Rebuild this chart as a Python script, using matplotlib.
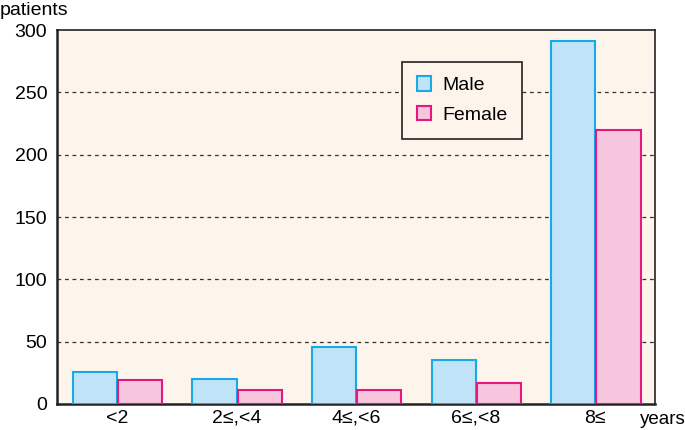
import numpy as np
import matplotlib
matplotlib.use("Agg")
import matplotlib.pyplot as plt

plt.rcParams["font.family"] = ["Liberation Sans", "DejaVu Sans"]

# data
groups = ["<2", "2\u2264,<4", "4\u2264,<6", "6\u2264,<8", "8\u2264"]
male = [26, 20, 46, 35, 291]
female = [19, 11, 11, 17, 220]

fig = plt.figure(figsize=(6.85, 4.3), dpi=100)
ax = fig.add_axes([0.0832, 0.0605, 0.873, 0.8695])
ax.set_facecolor("#fdf5ec")

x = np.arange(len(groups))
w = 0.37
ax.bar(x - w / 2 + 0.002, male, w, color="#c0e3f7", edgecolor="#18a9e8",
       linewidth=1.5, label="Male", zorder=3)
ax.bar(x + w / 2 + 0.01, female, w, color="#f6c6df", edgecolor="#e5187f",
       linewidth=1.5, label="Female", zorder=3)

ax.set_xlim(-0.5, len(groups) - 0.5)
ax.set_ylim(0, 300)
ax.set_yticks(range(0, 301, 50))
ax.set_xticks(x)
ax.set_xticklabels(groups)
ax.tick_params(length=0, labelsize=14)
ax.tick_params(axis="x", pad=4)
ax.tick_params(axis="y", pad=7)
for y in range(50, 300, 50):
    ax.axhline(y, color="#333333", linestyle=(0, (3, 3)), linewidth=0.9, zorder=1)

for s in ax.spines.values():
    s.set_color("#222222")
    s.set_linewidth(1.2)
ax.spines["left"].set_linewidth(1.8)
ax.spines["bottom"].set_linewidth(1.8)

fig.text(0.0, 0.995, "patients", fontsize=14, va="top", ha="left")
fig.text(0.934, 0.014, "years", fontsize=13.5, va="baseline", ha="left")

leg = ax.legend(loc="upper left", bbox_to_anchor=(0.577, 0.915), fontsize=14,
                fancybox=False, framealpha=1, edgecolor="#222222",
                facecolor="#fdf5ec", handlelength=0.75, handleheight=0.75,
                borderpad=0.75, labelspacing=0.6, handletextpad=0.55,
                borderaxespad=0)
leg.get_frame().set_linewidth(1.2)

fig.savefig("out.png", dpi=100)
